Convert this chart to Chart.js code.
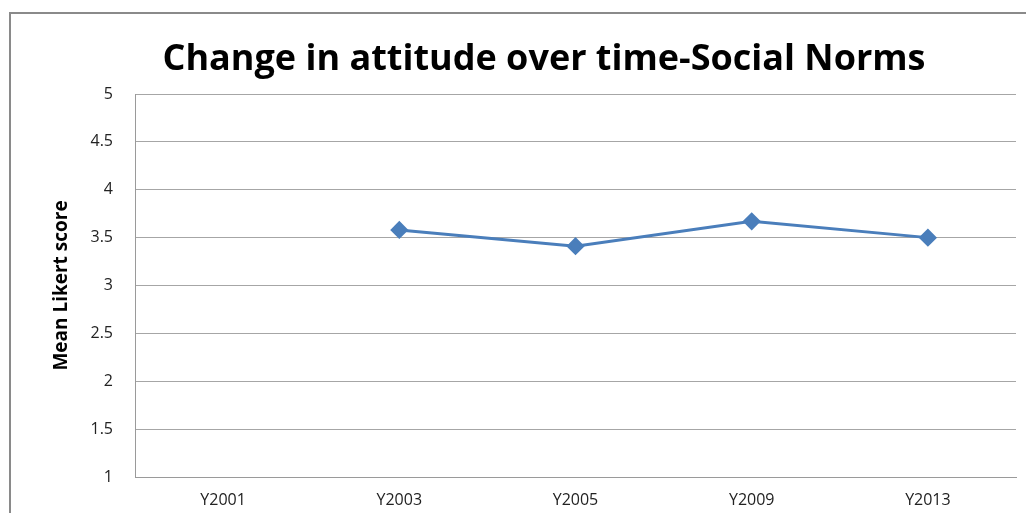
<!DOCTYPE html>
<html>
<head>
<meta charset="utf-8">
<title>Change in attitude over time-Social Norms</title>
<script src="https://cdn.jsdelivr.net/npm/chart.js@4"></script>
<style>
  html, body { margin: 0; padding: 0; background: #fff; }
  #wrap { position: relative; width: 1026px; height: 513px; }
</style>
</head>
<body>
<div id="wrap"><canvas id="chart" width="1026" height="513"></canvas></div>
<script>
// survey waves and mean scores (no data for the first wave)
const years = ['Y2001', 'Y2003', 'Y2005', 'Y2009', 'Y2013'];
const meanScores = [null, 3.58, 3.41, 3.67, 3.50];
const yTicks = [1, 1.5, 2, 2.5, 3, 3.5, 4, 4.5, 5];

const TITLE = 'Change in attitude over time-Social Norms';
const FONT = '"Open Sans", "Noto Sans", sans-serif';

// outer frame + heading, drawn straight on the canvas
const framePlugin = {
  id: 'frame',
  beforeDraw(chart) {
    const c = chart.ctx;
    c.save();
    c.strokeStyle = '#8a8a8a';
    c.lineWidth = 2;
    c.beginPath();
    c.moveTo(10, 513);
    c.lineTo(10, 13);
    c.lineTo(1026, 13);
    c.stroke();
    c.restore();
  },
  afterDraw(chart) {
    const c = chart.ctx;
    c.save();
    c.fillStyle = '#000';
    c.font = 'bold 36px ' + FONT;
    c.textAlign = 'center';
    c.textBaseline = 'alphabetic';
    c.fillText(TITLE, 544, 70);
    c.restore();
  }
};

new Chart(document.getElementById('chart'), {
  type: 'line',
  data: {
    labels: years,
    datasets: [{
      label: 'Social Norms',
      data: meanScores,
      borderColor: '#4a7ebb',
      backgroundColor: '#4a7ebb',
      borderWidth: 3,
      pointStyle: 'rectRot',
      pointRadius: 7,
      pointHoverRadius: 7,
      tension: 0,
      spanGaps: false
    }]
  },
  options: {
    responsive: false,
    animation: false,
    layout: { padding: { top: 94, left: 0, right: 10, bottom: 0 } },
    plugins: {
      legend: { display: false },
      title: { display: false },
      tooltip: { enabled: false }
    },
    scales: {
      x: {
        offset: true,
        grid: { display: false, drawTicks: false },
        border: { color: '#9a9a9a', width: 1 },
        ticks: { color: '#222', font: { family: FONT, size: 16 }, padding: 14 },
        afterFit(scale) { scale.height = 36; }
      },
      y: {
        min: 1,
        max: 5,
        afterBuildTicks(scale) { scale.ticks = yTicks.map(v => ({ value: v })); },
        grid: { color: '#a6a6a6', lineWidth: 1, drawTicks: false },
        border: { color: '#9a9a9a', width: 1 },
        ticks: {
          color: '#222',
          font: { family: FONT, size: 16 },
          padding: 22,
          callback: v => String(v)
        },
        title: {
          display: true,
          text: 'Mean Likert score',
          color: '#000',
          font: { family: FONT, size: 19, weight: 'bold' },
          padding: { top: 50, bottom: 0 }
        },
        afterFit(scale) { scale.width = 135; }
      }
    }
  },
  plugins: [framePlugin]
});
</script>
</body>
</html>
